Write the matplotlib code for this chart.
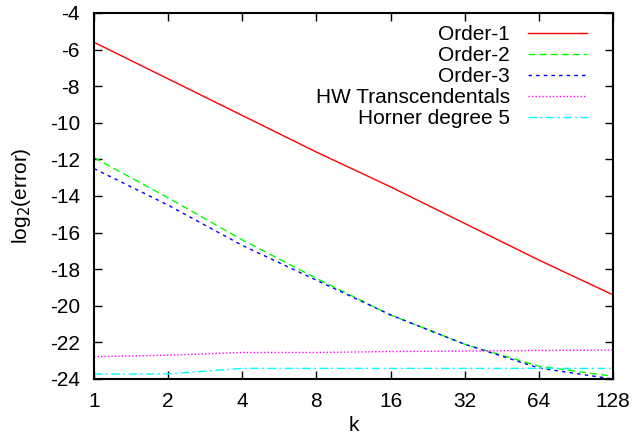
import matplotlib
matplotlib.use("Agg")
import matplotlib.pyplot as plt
from matplotlib.ticker import FixedLocator, FixedFormatter, NullLocator

plt.rcParams['font.family'] = ['Liberation Sans', 'DejaVu Sans']
plt.rcParams['axes.unicode_minus'] = False

# data
k = [1, 2, 4, 8, 16, 32, 64, 128]
order1 = [-5.6, -7.6, -9.6, -11.6, -13.5, -15.5, -17.5, -19.4]
order2 = [-11.9, -14.1, -16.4, -18.5, -20.5, -22.1, -23.3, -23.85]
order3 = [-12.5, -14.5, -16.7, -18.6, -20.5, -22.1, -23.4, -24.0]
hw_trans = [-22.78, -22.7, -22.55, -22.55, -22.5, -22.47, -22.44, -22.42]
horner5 = [-23.73, -23.72, -23.42, -23.42, -23.42, -23.42, -23.42, -23.42]

xticks = [1, 2, 4, 8, 16, 32, 64, 128]
yticks = list(range(-24, -3, 2))

fig = plt.figure(figsize=(6.34, 4.4), dpi=100)
ax = fig.add_axes([94 / 634, 1 - 379 / 440, 519 / 634, 366 / 440])

ax.plot(k, order1, color='#ff0000', lw=1, label='Order-1')
ax.plot(k, order2, color='#00ff00', lw=1, dashes=(5, 3), label='Order-2')
ax.plot(k, order3, color='#0000ff', lw=1, dashes=(2.5, 3), label='Order-3')
ax.plot(k, hw_trans, color='#ff00ff', lw=1, dashes=(1, 1.5), label='HW Transcendentals')
ax.plot(k, horner5, color='#00ffff', lw=1, dashes=(6, 2.5, 1.5, 2.5), label='Horner degree 5')

ax.set_xscale('log', base=2)
ax.set_xlim(1, 128)
ax.set_ylim(-24, -4)
ax.xaxis.set_major_locator(FixedLocator(xticks))
ax.xaxis.set_major_formatter(FixedFormatter([str(t) for t in xticks]))
ax.xaxis.set_minor_locator(NullLocator())
ax.yaxis.set_major_locator(FixedLocator(yticks))

ax.tick_params(direction='in', length=6, width=1, top=True, right=True,
               labelsize=15)
ax.tick_params(axis='y', pad=10)
ax.tick_params(axis='x', pad=9)
for s in ax.spines.values():
    s.set_linewidth(1.5)

ax.set_xlabel('k', fontsize=15, labelpad=4)
ax.set_ylabel('log$_2$(error)', fontsize=15, labelpad=12)

leg = ax.legend(loc='upper right', frameon=False, fontsize=15,
                markerfirst=False, handlelength=2.85, handletextpad=0.85,
                labelspacing=0.1, borderaxespad=0, borderpad=0,
                bbox_to_anchor=(587 / 634, 1 - 25 / 440),
                bbox_transform=fig.transFigure)
for t in leg.get_texts():
    t.set_ha('right')

fig.savefig('out.png', dpi=100)
